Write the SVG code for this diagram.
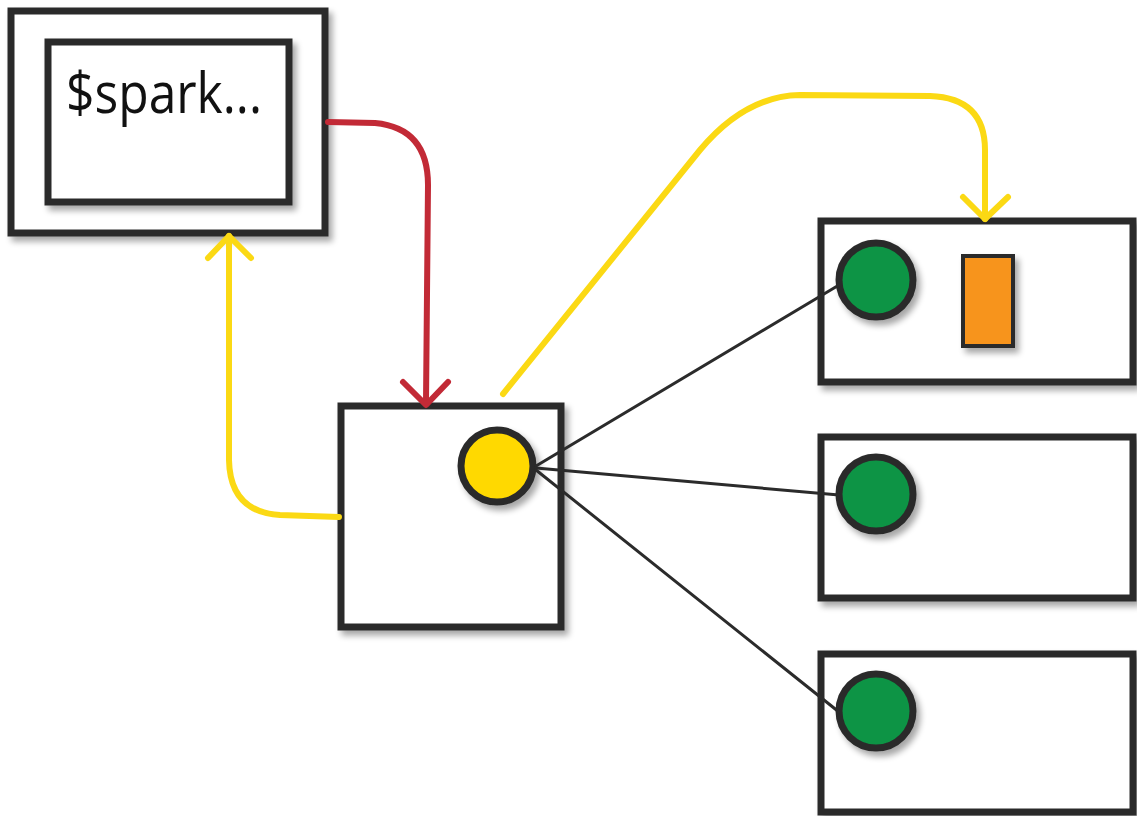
<svg xmlns="http://www.w3.org/2000/svg" width="1137" height="816" viewBox="0 0 1137 816">
<defs>
<filter id="sh" x="-20%" y="-20%" width="150%" height="150%">
<feGaussianBlur in="SourceAlpha" stdDeviation="3"/>
<feOffset dx="4" dy="5" result="b"/>
<feComponentTransfer><feFuncA type="linear" slope="0.35"/></feComponentTransfer>
<feMerge><feMergeNode/><feMergeNode in="SourceGraphic"/></feMerge>
</filter>
<style>
.box{fill:#fff;stroke:#2b2b2b;stroke-width:7;stroke-linejoin:miter}
.green{fill:#0b9444;stroke:#2b2b2b;stroke-width:7}
.yc{fill:#ffd900;stroke:#2b2b2b;stroke-width:7}
.or{fill:#f7941d;stroke:#2b2b2b;stroke-width:4}
.link{fill:none;stroke:#2b2b2b;stroke-width:3;stroke-linecap:round}
.ya{fill:none;stroke:#fbd914;stroke-width:6;stroke-linecap:round;stroke-linejoin:round}
.ra{fill:none;stroke:#c22a36;stroke-width:6;stroke-linecap:round;stroke-linejoin:round}
.lbl{font-family:"Open Sans","Liberation Sans",sans-serif;font-size:56px;fill:#111}
</style>
</defs>
<rect width="1137" height="816" fill="#fff"/>

<g id="client">
<rect class="box" x="11" y="11" width="314" height="222" filter="url(#sh)"/>
<rect class="box" x="48" y="42" width="241" height="160" filter="url(#sh)"/>
<text class="lbl" x="66" y="113" textLength="196" lengthAdjust="spacingAndGlyphs">$spark...</text>
</g>

<g id="driver">
<rect class="box" x="341" y="406" width="220" height="221" filter="url(#sh)"/>
<circle class="yc" cx="497" cy="466" r="36" filter="url(#sh)"/>
</g>

<g id="worker1">
<rect class="box" x="821" y="221" width="312" height="161" filter="url(#sh)"/>
<circle class="green" cx="876" cy="280" r="37" filter="url(#sh)"/>
<rect class="or" x="963" y="256" width="50" height="90" filter="url(#sh)"/>
</g>

<g id="worker2">
<rect class="box" x="821" y="437" width="312" height="161" filter="url(#sh)"/>
<circle class="green" cx="876" cy="494" r="37" filter="url(#sh)"/>
</g>

<g id="worker3">
<rect class="box" x="821" y="654" width="312" height="158" filter="url(#sh)"/>
<circle class="green" cx="876" cy="711" r="37" filter="url(#sh)"/>
</g>

<g id="connectors">
<path class="link" d="M536 466 L839 285"/>
<path class="link" d="M536 468 L839 495"/>
<path class="link" d="M536 470 L839 712"/>
<path class="ra" d="M328 122 L375 123 Q428 128 428 185 L426 403"/>
<path class="ra" d="M403 382 L426 405 L448 382"/>
<path class="ya" d="M339 517 L280 515 Q230 512 229 460 L229 236"/>
<path class="ya" d="M208 258 L229 236 L251 258"/>
<path class="ya" d="M503 394 L700 150 Q745 96 800 95 L930 96 Q985 98 985 150 L985 219"/>
<path class="ya" d="M963 197 L985 219 L1008 197"/>
</g>
</svg>
